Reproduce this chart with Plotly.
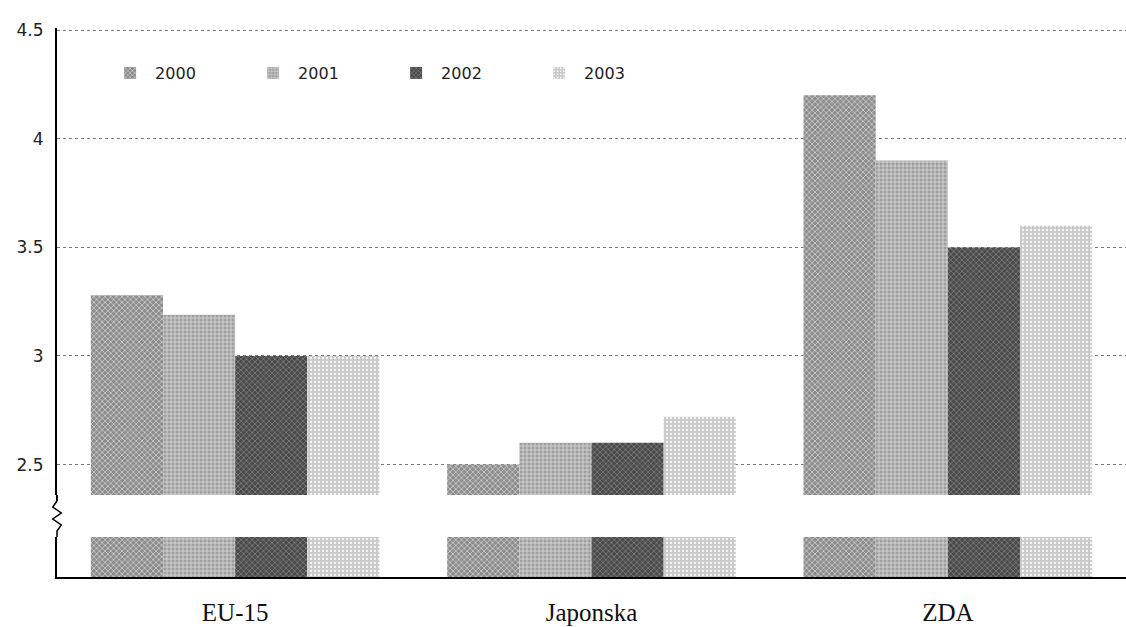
import plotly.graph_objects as go

categories = ["EU-15", "Japonska", "ZDA"]
years = ["2000", "2001", "2002", "2003"]
values = {
    "2000": [3.28, 2.50, 4.20],
    "2001": [3.19, 2.60, 3.90],
    "2002": [3.00, 2.60, 3.50],
    "2003": [3.00, 2.72, 3.60],
}
y_ticks = [2.5, 3, 3.5, 4, 4.5]
y_ticktext = ["2.5", "3", "3.5", "4", "4.5"]

colors = {"2000": "#8c8c8c", "2001": "#a0a0a0", "2002": "#4a4a4a", "2003": "#cacaca"}
fg = {"2000": "#f2f2f2", "2001": "#f2f2f2", "2002": "#9a9a9a", "2003": "#f7f7f7"}
shapes_p = {"2000": "x", "2001": "+", "2002": "x", "2003": "."}

fig = go.Figure()
for yr in years:
    for ax, show in (("y2", True), ("y", False)):
        fig.add_trace(go.Bar(
            x=categories, y=values[yr], name=yr, legendgroup=yr, showlegend=show,
            xaxis="x2" if ax == "y2" else "x", yaxis=ax,
            marker=dict(color=colors[yr], line=dict(width=0),
                        pattern=dict(shape=shapes_p[yr], fgcolor=fg[yr], bgcolor=colors[yr],
                                     size=4, solidity=0.25, fillmode="replace")),
        ))

H = 549.0
upper_bottom = (577 - 495) / H
lower_top = (577 - 537) / H

fig.update_layout(
    width=1126, height=627,
    margin=dict(l=57, r=0, t=28, b=50),
    paper_bgcolor="white", plot_bgcolor="white",
    barmode="group", bargap=0.19, bargroupgap=0.0,
    xaxis=dict(domain=[0, 1], anchor="y", showline=True, linecolor="black", linewidth=2,
               ticks="", tickfont=dict(family="Liberation Serif", size=25, color="#111"),
               ticklabelstandoff=12, showgrid=False),
    xaxis2=dict(domain=[0, 1], anchor="y2", matches="x", showticklabels=False,
                showline=False, showgrid=False, ticks=""),
    yaxis=dict(domain=[0, lower_top], range=[0, 1], showticklabels=False, ticks="",
               showgrid=False, zeroline=False, showline=True, linecolor="black", linewidth=2),
    yaxis2=dict(domain=[upper_bottom, 1], range=[2.36, 4.51], tickvals=y_ticks, ticktext=y_ticktext,
                ticks="", showline=True, linecolor="black", linewidth=2, zeroline=False,
                showgrid=True, gridcolor="#7a7a7a", griddash="dot", gridwidth=1,
                ticklabelstandoff=8,
                tickfont=dict(family="DejaVu Sans", size=17, color="#222")),
    legend=dict(orientation="h", x=0.045, y=0.918, yanchor="middle", xanchor="left",
                entrywidth=88, entrywidthmode="pixels", bgcolor="rgba(0,0,0,0)",
                font=dict(family="DejaVu Sans", size=16, color="#222"), itemwidth=40),
    showlegend=True,
)

# broken-axis zigzag marker on the left axis line
y0 = upper_bottom
y1 = lower_top
step = (y0 - y1) / 7
fig.add_shape(type="path", xref="paper", yref="paper",
              path="M 0,{} L 0,{}".format(y0, y0 - step), line=dict(color="black", width=2))
pts = [y0 - step * k for k in range(1, 7)]
xs_off = [0, -0.004, 0.004, -0.004, 0.004, 0]
p = "M {},{}".format(0, pts[0])
for xo, yy in zip(xs_off[1:], pts[1:]):
    p += " L {},{}".format(xo, yy)
p += " L 0,{}".format(y1)
fig.add_shape(type="path", xref="paper", yref="paper", path=p, line=dict(color="black", width=1.5))

fig.write_html("out.html")
